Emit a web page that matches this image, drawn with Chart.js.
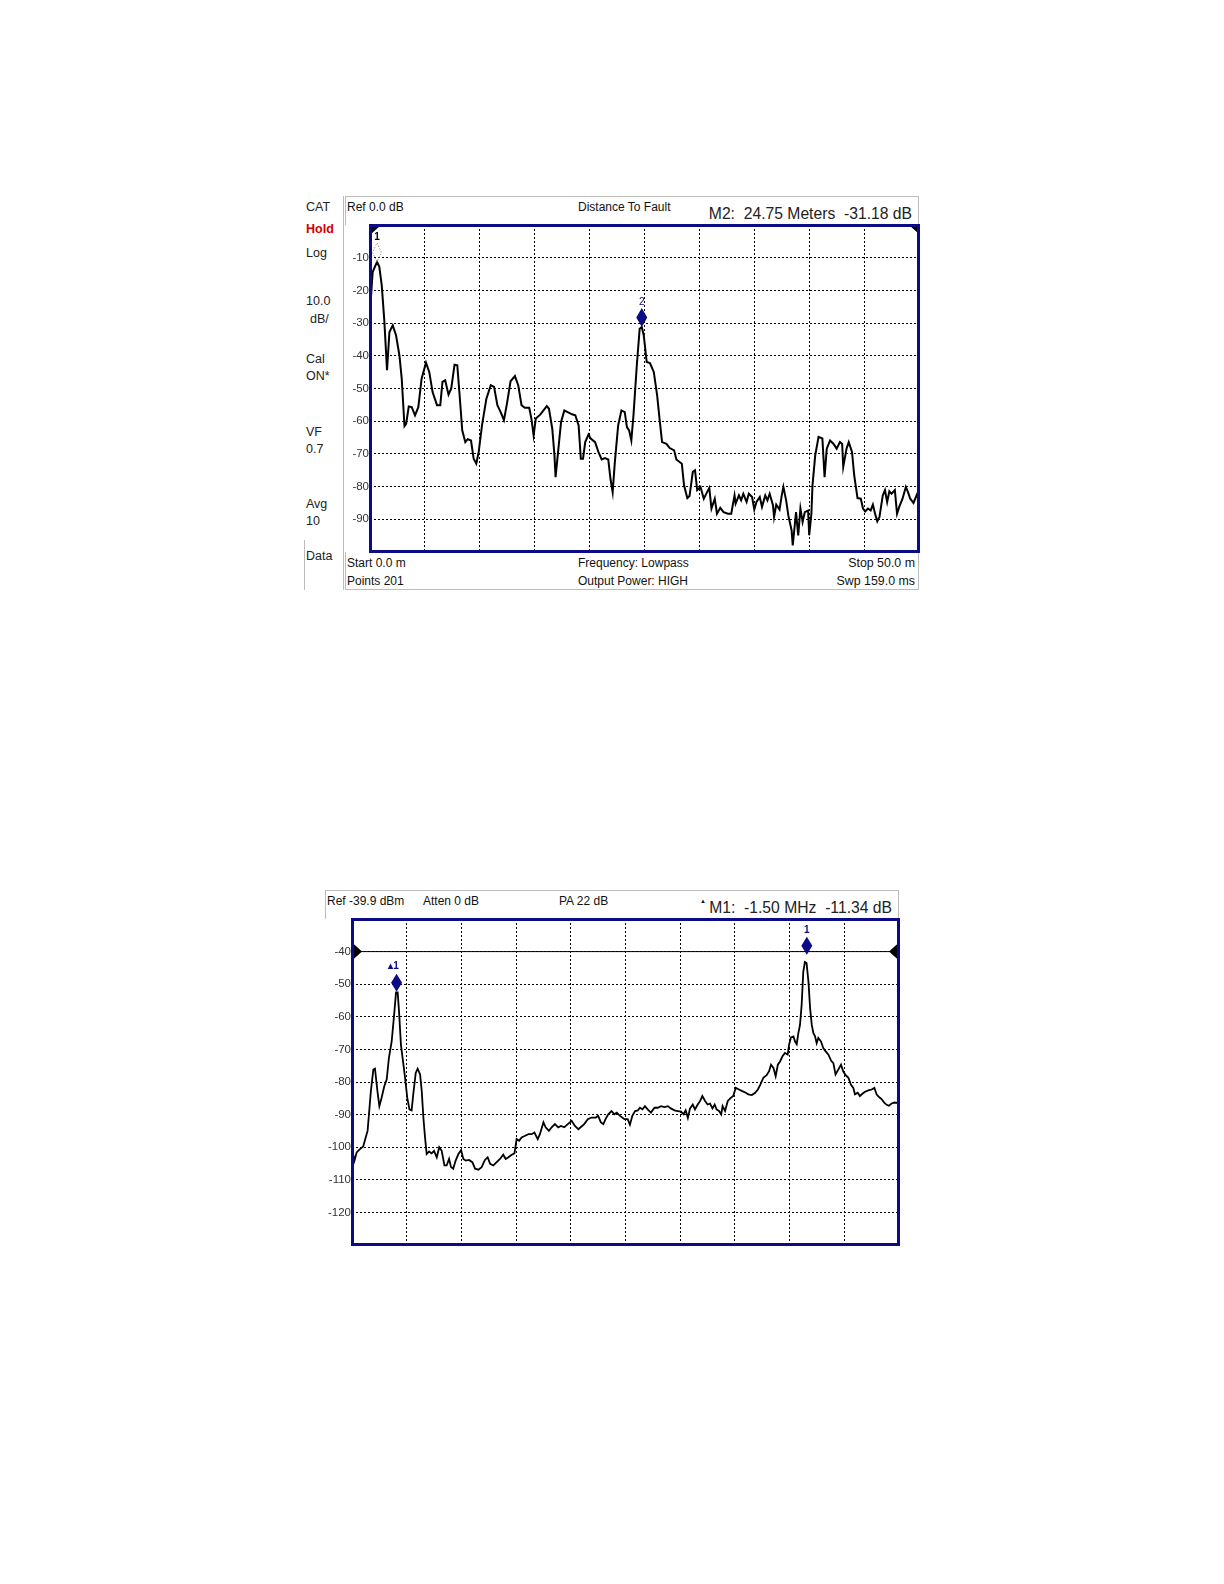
<!DOCTYPE html>
<html><head><meta charset="utf-8">
<script src="https://cdn.jsdelivr.net/npm/chart.js@4.4.1/dist/chart.umd.min.js"></script>
<style>
body{margin:0;background:#fff;}
#page{position:relative;width:1224px;height:1584px;background:#fff;font-family:"Liberation Sans",Arial,sans-serif;color:#111;overflow:hidden;}
.t{position:absolute;white-space:pre;font-size:12px;line-height:14px;}
.s{position:absolute;white-space:pre;font-size:12.5px;line-height:14px;color:#222;left:306px;}
.big{font-size:15.7px;line-height:18px;color:#222;}
.ln{position:absolute;background:#bdbdbd;}
canvas{position:absolute;}
</style></head>
<body><div id="page">
<!-- top instrument screen -->
<div class="ln" style="left:343px;top:196px;width:1px;height:394px"></div>
<div class="ln" style="left:304px;top:540px;width:1px;height:50px"></div>
<div class="ln" style="left:345px;top:196px;width:574px;height:1px"></div>
<div class="ln" style="left:345px;top:196px;width:1px;height:29px"></div>
<div class="ln" style="left:918px;top:196px;width:1px;height:29px"></div>
<div class="ln" style="left:345px;top:552px;width:1px;height:38px"></div>
<div class="ln" style="left:918px;top:552px;width:1px;height:38px"></div>
<div class="ln" style="left:345px;top:589px;width:574px;height:1px"></div>

<div class="s" style="top:200px">CAT</div>
<div class="s" style="top:222px;color:#d40000;font-weight:bold">Hold</div>
<div class="s" style="top:246px">Log</div>
<div class="s" style="top:294px">10.0</div>
<div class="s" style="top:312px;left:310px">dB/</div>
<div class="s" style="top:352px">Cal</div>
<div class="s" style="top:369px">ON*</div>
<div class="s" style="top:425px">VF</div>
<div class="s" style="top:442px">0.7</div>
<div class="s" style="top:497px">Avg</div>
<div class="s" style="top:514px">10</div>
<div class="s" style="top:549px">Data</div>

<div class="t" style="left:347px;top:200px">Ref 0.0 dB</div>
<div class="t" style="left:578px;top:200px">Distance To Fault</div>
<div class="t big" style="right:312px;top:205px">M2:  24.75 Meters  -31.18 dB</div>
<div class="t" style="left:347px;top:556px">Start 0.0 m</div>
<div class="t" style="left:347px;top:574px">Points 201</div>
<div class="t" style="left:578px;top:556px">Frequency: Lowpass</div>
<div class="t" style="left:578px;top:574px">Output Power: HIGH</div>
<div class="t" style="right:309px;top:556px;font-size:12.4px">Stop 50.0 m</div>
<div class="t" style="right:309px;top:574px;font-size:12.4px">Swp 159.0 ms</div>
<canvas id="dtf" width="610" height="345" style="left:320px;top:215px;width:610px;height:345px"></canvas>

<!-- bottom instrument screen -->
<div class="ln" style="left:325px;top:890px;width:574px;height:1px"></div>
<div class="ln" style="left:325px;top:890px;width:1px;height:29px"></div>
<div class="ln" style="left:898px;top:890px;width:1px;height:29px"></div>
<div class="t" style="left:327px;top:894px">Ref -39.9 dBm</div>
<div class="t" style="left:423px;top:894px">Atten 0 dB</div>
<div class="t" style="left:559px;top:894px">PA 22 dB</div>
<div class="t" style="left:700px;top:897px;font-size:6px;line-height:8px">▲</div>
<div class="t big" style="right:332px;top:899px">M1:  -1.50 MHz  -11.34 dB</div>
<canvas id="spec" width="610" height="346" style="left:300px;top:909px;width:610px;height:346px"></canvas>
</div>
<script>
// ---------- Distance To Fault trace (distance m, level dB) ----------
const dtfDistance = [0.00,0.24,0.64,0.85,1.07,1.30,1.55,1.77,2.07,2.37,2.68,2.89,3.14,3.29,3.53,3.80,4.10,4.40,4.70,5.10,5.40,5.70,6.10,6.40,6.60,6.85,7.15,7.40,7.70,7.95,8.16,8.40,8.68,8.90,9.20,9.44,9.68,9.90,10.2,10.6,11.0,11.3,11.6,11.9,12.2,12.5,12.8,13.2,13.5,13.8,14.1,14.5,14.7,14.9,15.1,15.5,15.8,16.1,16.3,16.6,16.8,16.9,17.1,17.4,17.7,18.0,18.4,18.7,19.0,19.2,19.4,19.6,19.9,20.1,20.5,20.8,21.1,21.4,21.7,21.9,22.1,22.3,22.6,22.9,23.2,23.4,23.6,23.8,24.0,24.3,24.56,24.75,24.93,25.2,25.5,25.85,26.15,26.4,26.6,27.0,27.3,27.7,27.9,28.4,28.6,28.9,29.1,29.4,29.6,29.8,30.1,30.4,30.7,30.9,31.1,31.4,31.6,31.9,32.2,32.6,32.9,33.2,33.3,33.6,33.8,34.0,34.3,34.5,34.8,35.0,35.2,35.5,35.7,36.0,36.2,36.4,36.7,36.8,37.0,37.3,37.5,37.65,37.9,38.1,38.4,38.5,38.7,38.8,39.0,39.2,39.4,39.6,39.9,40.0,40.2,40.3,40.55,40.85,41.2,41.4,41.6,41.9,42.2,42.5,42.8,43.0,43.1,43.4,43.6,43.9,44.1,44.4,44.7,44.9,45.1,45.35,45.6,45.8,46.0,46.2,46.4,46.7,46.9,47.1,47.3,47.5,47.8,48.0,48.2,48.5,48.8,49.0,49.2,49.5,49.8,50.0];
const dtfLevel = [-26.6,-14.4,-11.3,-12.8,-18.5,-29.0,-44.4,-32.7,-30.7,-33.7,-39.9,-47.0,-61.5,-60.8,-55.5,-55.7,-58.2,-55.7,-47.0,-42.1,-45.0,-51.1,-55.1,-55.1,-48.0,-47.5,-51.9,-50.0,-42.7,-42.9,-52.0,-62.8,-66.4,-65.5,-65.9,-71.5,-73.0,-69.4,-61.3,-53.1,-49.0,-49.5,-55.1,-57.2,-59.7,-54.1,-47.8,-46.2,-49.0,-55.1,-55.9,-55.9,-59.2,-64.3,-59.2,-58.0,-56.7,-55.4,-56.2,-62.3,-70.4,-77.1,-70.4,-60.2,-56.7,-57.2,-57.9,-58.2,-61.3,-71.5,-71.5,-66.4,-64.1,-65.3,-66.4,-69.4,-71.7,-71.3,-71.7,-77.6,-81.7,-72.5,-61.3,-56.7,-57.2,-61.8,-62.8,-65.9,-58.0,-42.9,-31.7,-31.18,-33.7,-41.9,-42.2,-45.0,-52.1,-60.2,-66.4,-66.9,-68.2,-68.9,-71.7,-73.0,-79.6,-83.5,-82.9,-75.5,-75.0,-81.1,-80.1,-83.7,-81.7,-80.4,-86.7,-83.7,-88.3,-86.5,-87.8,-88.3,-88.3,-82.7,-85.2,-82.7,-84.2,-82.2,-84.7,-82.2,-83.2,-87.0,-84.7,-83.2,-86.2,-82.7,-84.2,-82.2,-85.7,-89.3,-85.5,-87.0,-82.7,-80.1,-84.2,-88.8,-93.4,-98.0,-91.3,-87.8,-94.9,-86.7,-90.8,-87.8,-87.3,-94.9,-88.3,-79.6,-70.4,-64.8,-65.3,-77.1,-68.4,-65.9,-66.9,-68.4,-66.4,-66.9,-74.0,-68.4,-66.4,-69.4,-76.6,-83.5,-83.7,-86.7,-87.6,-86.7,-87.3,-85.5,-88.3,-90.6,-89.3,-82.7,-81.1,-84.7,-81.4,-82.2,-81.1,-88.3,-86.2,-83.7,-80.1,-81.7,-83.7,-85.0,-82.5,-84.0];
const dtfYTicks = ["-10","-20","-30","-40","-50","-60","-70","-80","-90"];
const dtfMarkerX = [0.64, 24.75];
const dtfMarkerY = [-11.3, -31.18];
const dtfMarkerLabel = ["1", "2"];

// ---------- Spectrum trace (frequency offset MHz, level dBm) ----------
const specFreq = [0.000,0.009,0.017,0.029,0.041,0.050,0.057,0.063,0.069,0.078,0.084,0.093,0.100,0.108,0.118,0.127,0.135,0.145,0.154,0.161,0.167,0.172,0.179,0.188,0.194,0.202,0.210,0.218,0.224,0.233,0.240,0.249,0.255,0.261,0.267,0.273,0.282,0.291,0.300,0.310,0.319,0.328,0.338,0.346,0.355,0.362,0.370,0.379,0.389,0.399,0.407,0.416,0.428,0.440,0.450,0.462,0.474,0.486,0.496,0.505,0.517,0.529,0.541,0.553,0.562,0.572,0.584,0.594,0.602,0.611,0.620,0.633,0.645,0.657,0.667,0.679,0.687,0.700,0.708,0.720,0.730,0.742,0.754,0.764,0.776,0.789,0.803,0.815,0.828,0.837,0.849,0.862,0.876,0.891,0.900,0.910,0.919,0.927,0.937,0.949,0.959,0.968,0.980,0.996,1.008,1.016,1.025,1.035,1.045,1.053,1.062,1.071,1.081,1.093,1.106,1.118,1.130,1.142,1.155,1.166,1.179,1.191,1.203,1.212,1.220,1.228,1.236,1.246,1.254,1.264,1.273,1.281,1.291,1.300,1.309,1.318,1.326,1.333,1.342,1.350,1.355,1.364,1.374,1.386,1.394,1.403,1.415,1.427,1.440,1.449,1.462,1.474,1.484,1.493,1.504,1.516,1.525,1.532,1.541,1.549,1.557,1.565,1.574,1.583,1.593,1.598,1.605,1.614,1.620,1.626,1.632,1.638,1.644,1.650,1.656,1.662,1.669,1.675,1.681,1.687,1.693,1.699,1.705,1.715,1.723,1.732,1.742,1.752,1.760,1.768,1.778,1.788,1.796,1.805,1.815,1.824,1.833,1.839,1.849,1.857,1.866,1.876,1.888,1.900,1.910,1.918,1.927,1.937,1.946,1.955,1.963,1.973,1.983,2.000];
const specLevel = [-100.6,-104.1,-101.6,-100.6,-99.8,-97.0,-95.0,-88.9,-82.8,-76.2,-75.9,-82.8,-87.4,-84.9,-81.3,-79.2,-72.6,-67.6,-59.4,-52.5,-52.5,-58.4,-68.6,-74.7,-78.7,-84.8,-88.4,-88.7,-83.8,-77.2,-75.9,-77.7,-82.8,-90.9,-97.0,-102.1,-101.3,-101.9,-101.1,-103.1,-100.0,-101.1,-105.6,-105.6,-103.6,-106.1,-106.6,-104.1,-102.1,-100.9,-103.6,-104.1,-103.9,-104.6,-106.6,-106.9,-106.1,-103.9,-103.1,-105.1,-105.6,-104.6,-103.6,-102.3,-103.6,-103.1,-102.3,-101.9,-97.5,-98.0,-97.0,-96.5,-96.0,-96.0,-95.5,-97.5,-96.0,-92.4,-93.9,-95.0,-93.9,-92.9,-93.9,-93.5,-93.9,-92.9,-91.9,-93.5,-94.5,-93.8,-92.9,-91.4,-90.9,-90.9,-90.4,-92.4,-92.9,-91.4,-89.9,-88.9,-89.9,-89.4,-90.4,-91.4,-91.4,-93.1,-90.4,-88.9,-88.7,-87.9,-88.4,-87.4,-88.4,-89.4,-87.9,-87.9,-87.4,-87.7,-87.4,-88.1,-88.7,-88.9,-89.1,-89.9,-88.7,-91.0,-88.1,-86.9,-88.4,-86.9,-85.8,-84.3,-85.8,-86.9,-86.6,-88.1,-86.9,-88.4,-88.9,-89.9,-87.4,-88.9,-85.8,-84.8,-84.3,-81.8,-82.3,-82.8,-83.3,-83.8,-84.0,-83.3,-82.3,-80.8,-78.7,-77.9,-76.7,-74.7,-75.7,-78.2,-74.7,-73.7,-72.1,-71.1,-71.6,-68.6,-66.3,-66.0,-67.6,-68.4,-65.0,-62.5,-56.4,-46.2,-43.2,-43.5,-49.3,-57.4,-62.5,-65.0,-66.0,-68.1,-66.5,-67.6,-69.6,-70.6,-71.6,-73.5,-74.2,-77.7,-76.2,-74.7,-76.7,-77.9,-78.7,-80.8,-81.8,-83.8,-83.3,-84.3,-83.6,-83.0,-82.6,-82.3,-81.8,-83.8,-84.6,-85.3,-86.3,-87.0,-87.3,-86.6,-86.3,-86.5];
const specYTicks = ["-40","-50","-60","-70","-80","-90","-100","-110","-120"];
const specDisplayLine = -40;
const specMarkerX = [1.663, 0.163];
const specMarkerY = [-41.0, -52.3];
const specMarkerLabel = ["1", "\u25B41"];

const NAVY = '#0b0b86';
const FONT = '"Liberation Sans", Arial, sans-serif';

function diamond(ctx, x, yTip, w, h) {
  ctx.beginPath();
  ctx.moveTo(x, yTip);
  ctx.lineTo(x - w / 2, yTip - h / 2);
  ctx.lineTo(x, yTip - h);
  ctx.lineTo(x + w / 2, yTip - h / 2);
  ctx.closePath();
}

function framePlugin(name, extra) {
  return {
    id: name,
    afterDatasetsDraw(chart) {
      const { ctx, chartArea: a } = chart;
      ctx.save();
      extra(chart, ctx, a);
      ctx.strokeStyle = NAVY;
      ctx.lineWidth = 3;
      ctx.strokeRect(a.left + 0.5, a.top + 0.5, a.right - a.left - 1, a.bottom - a.top - 1);
      ctx.restore();
    }
  };
}

function baseOptions(xMax, yMin, yMax, tickLabels, yWidth, pad, xStep) {
  return {
    responsive: false, animation: false, devicePixelRatio: 1,
    layout: { padding: pad, autoPadding: false },
    plugins: { legend: { display: false }, tooltip: { enabled: false } },
    scales: {
      x: {
        type: 'linear', min: 0, max: xMax,
        ticks: { display: false, stepSize: xStep, includeBounds: false },
        grid: { color: '#000', lineWidth: 1, drawTicks: false },
        border: { display: false, dash: [2, 2] },
        afterFit: s => { s.height = 0; }
      },
      y: {
        type: 'linear', min: yMin, max: yMax,
        ticks: {
          stepSize: 10, padding: 1, color: '#333',
          font: { family: FONT, size: 11.5 },
          callback: v => (tickLabels.includes(String(v)) ? String(v) : '')
        },
        grid: { color: '#000', lineWidth: 1, drawTicks: false },
        border: { display: false, dash: [2, 2] },
        afterFit: s => { s.width = yWidth; }
      }
    }
  };
}

// ---------------- top chart ----------------
const dtfPoints = dtfDistance.map((d, i) => ({ x: d, y: dtfLevel[i] }));
new Chart(document.getElementById('dtf'), {
  type: 'line',
  data: { datasets: [{ data: dtfPoints, borderColor: '#000', borderWidth: 2, pointRadius: 0, tension: 0 }] },
  options: baseOptions(50, -100, 0, dtfYTicks, 50, { left: 0, top: 10, right: 11, bottom: 8 }, 5),
  plugins: [framePlugin('dtfFrame', (chart, ctx, a) => {
    const xs = chart.scales.x, ys = chart.scales.y;
    ctx.fillStyle = '#000';
    ctx.beginPath(); ctx.moveTo(a.left, a.top); ctx.lineTo(a.left + 11, a.top); ctx.lineTo(a.left, a.top + 10); ctx.closePath(); ctx.fill();
    ctx.beginPath(); ctx.moveTo(a.right, a.top); ctx.lineTo(a.right - 10, a.top); ctx.lineTo(a.right, a.top + 9); ctx.closePath(); ctx.fill();
    dtfMarkerX.forEach((mx, i) => {
      const px = xs.getPixelForValue(mx), py = ys.getPixelForValue(dtfMarkerY[i]);
      diamond(ctx, px, py, i === 0 ? 9 : 11, 19);
      if (i === 0) {
        ctx.setLineDash([1.5, 1.5]); ctx.strokeStyle = '#9a9a9a'; ctx.lineWidth = 1; ctx.stroke(); ctx.setLineDash([]);
        ctx.fillStyle = '#000';
        ctx.font = 'bold 10px ' + FONT;
      } else {
        ctx.fillStyle = NAVY; ctx.fill();
        ctx.font = '10px ' + FONT;
      }
      ctx.textAlign = 'center'; ctx.textBaseline = 'middle';
      ctx.fillText(dtfMarkerLabel[i], px, py - 25);
    });
  })]
});

// ---------------- bottom chart ----------------
const specPoints = specFreq.map((f, i) => ({ x: f, y: specLevel[i] }));
const specXMax = 2.0;
new Chart(document.getElementById('spec'), {
  type: 'line',
  data: { datasets: [
    { data: [{ x: 0, y: specDisplayLine }, { x: specXMax, y: specDisplayLine }], borderColor: '#000', borderWidth: 1, pointRadius: 0 },
    { data: specPoints, borderColor: '#000', borderWidth: 1.8, pointRadius: 0, tension: 0 }
  ] },
  options: baseOptions(specXMax, -130, -30, specYTicks, 52, { left: 0, top: 10, right: 11, bottom: 10 }, 0.2),
  plugins: [framePlugin('specFrame', (chart, ctx, a) => {
    const xs = chart.scales.x, ys = chart.scales.y;
    const ly = ys.getPixelForValue(specDisplayLine);
    ctx.fillStyle = '#000';
    ctx.beginPath(); ctx.moveTo(a.left, ly - 9); ctx.lineTo(a.left + 10, ly); ctx.lineTo(a.left, ly + 9); ctx.closePath(); ctx.fill();
    ctx.beginPath(); ctx.moveTo(a.right, ly - 9); ctx.lineTo(a.right - 10, ly); ctx.lineTo(a.right, ly + 9); ctx.closePath(); ctx.fill();
    specMarkerX.forEach((mx, i) => {
      const px = xs.getPixelForValue(mx), py = ys.getPixelForValue(specMarkerY[i]);
      diamond(ctx, px, py, 11, 18);
      ctx.fillStyle = NAVY; ctx.fill();
      ctx.font = 'bold 10px ' + FONT;
      ctx.textAlign = 'center'; ctx.textBaseline = 'middle';
      ctx.fillText(specMarkerLabel[i], px - (i === 1 ? 3 : 0), py - 25);
    });
  })]
});
</script>
</body></html>
